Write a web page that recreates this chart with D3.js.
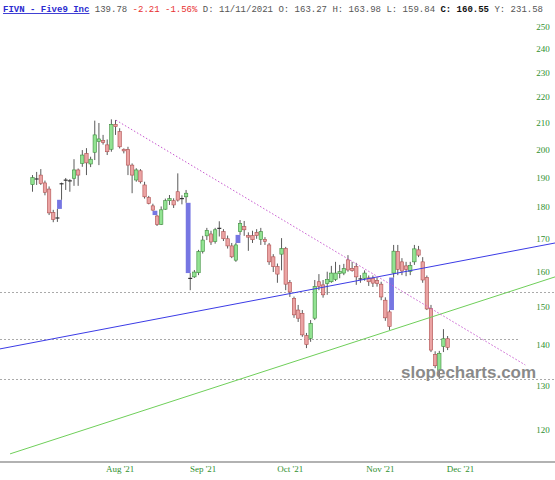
<!DOCTYPE html>
<html><head><meta charset="utf-8">
<script src="https://cdn.jsdelivr.net/npm/d3@7"></script>
<style>html,body{margin:0;padding:0;background:#fff;} svg{display:block;}</style>
</head><body>
<svg id="c" width="555" height="480"></svg>
<script>
// ---- data (trading-day index 0 = first candle) ----
const openV  = [187.6,189.8,190.9,188.2,186.1,178.3,176.3,187.8,189.0,189.0,189.8,192.7,195.0,198.6,194.8,199.0,202.9,203.3,201.7,200.1,
                209.4,206.6,200.1,200.0,194.4,189.2,192.4,187.5,183.2,180.5,177.2,174.5,179.4,182.2,182.2,185.2,182.8,183.5,158.0,158.6,
                159.8,166.1,170.9,171.5,169.1,173.5,172.2,170.0,167.8,163.5,172.2,173.8,171.0,171.0,172.0,169.8,169.8,168.1,164.5,161.6,
                165.3,167.0,157.0,152.5,149.3,148.4,142.5,141.8,147.1,157.2,156.3,156.7,157.2,157.9,159.6,159.7,163.6,161.0,161.6,158.2,
                158.2,158.3,158.2,157.5,156.5,152.0,148.8,159.7,166.1,163.0,161.8,160.2,163.0,166.6,163.0,158.4,149.7,137.7,133.8,139.7,141.7];
const highV  = [190.9,192.0,193.0,189.0,187.0,179.2,179.5,188.3,189.9,189.5,196.5,193.2,199.8,200.5,197.4,210.8,209.9,205.4,203.7,211.3,
                211.0,207.9,200.4,201.0,195.0,193.3,193.0,188.6,183.8,181.2,177.5,180.3,182.9,184.1,183.0,191.5,184.0,185.8,159.7,160.6,
                166.6,170.9,173.4,172.5,173.4,175.5,173.0,171.0,168.7,168.7,175.9,175.6,172.0,172.5,173.0,173.4,170.5,168.7,165.3,162.5,
                170.2,167.5,157.7,153.0,150.7,149.3,143.2,146.6,157.7,159.4,157.7,160.1,161.8,163.0,162.1,162.4,165.0,163.0,162.7,159.1,
                160.5,159.0,159.0,158.5,157.2,152.8,149.3,168.1,168.1,164.1,163.0,163.0,168.1,167.8,164.4,159.0,150.7,138.5,138.6,144.2,142.4];
const lowV   = [185.2,187.5,187.5,184.0,177.5,175.2,175.3,182.5,185.8,185.2,187.2,187.2,193.8,190.9,193.7,196.2,194.4,201.8,198.0,199.2,
                205.4,200.4,198.6,190.9,184.7,188.6,188.0,182.9,181.0,178.9,174.0,174.3,179.2,180.8,179.8,181.9,181.0,181.5,154.8,158.3,
                159.1,165.5,169.6,168.1,168.5,170.7,169.3,167.0,164.1,163.0,171.2,170.9,166.3,168.7,170.0,168.1,168.1,162.1,160.0,156.9,
                160.5,154.8,152.9,147.2,146.1,142.2,139.3,140.9,146.6,154.8,152.7,153.5,156.9,157.4,158.2,159.1,160.1,160.1,156.3,156.9,
                157.5,156.0,155.7,155.8,152.0,146.4,144.0,158.4,159.1,159.1,158.8,159.1,162.1,164.4,156.9,149.3,138.3,134.3,131.7,138.3,138.8];
const closeV = [190.0,189.3,188.0,185.0,178.2,176.1,176.8,188.0,189.3,188.8,192.7,190.9,198.0,195.2,196.5,205.4,203.9,202.6,199.2,209.4,
                208.5,201.0,199.5,194.4,190.9,192.7,188.6,183.5,181.3,179.1,174.5,179.2,182.2,182.9,180.8,182.4,183.0,184.7,158.3,160.0,
                166.1,169.6,172.6,169.0,172.8,173.0,170.0,167.8,164.5,168.1,174.8,172.8,170.5,169.7,171.0,172.2,169.2,163.0,161.6,159.4,
                167.0,156.5,154.3,148.0,147.1,142.7,140.2,145.7,155.8,155.9,153.5,157.9,159.7,159.7,160.1,161.0,160.6,160.4,158.6,157.8,
                159.7,157.2,156.8,156.7,152.9,147.2,144.9,166.2,160.8,160.3,160.8,161.9,166.9,165.0,157.7,149.6,138.8,134.9,138.0,141.7,139.5];
const gapIdx = [7, 30, 38, 50, 87];            // candles that opened with a price gap
const xTickLabels = ["Aug '21", "Sep '21", "Oct '21", "Nov '21", "Dec '21"];
const xTickIdx = [21.1, 41.1, 62.1, 83.8, 103.1];
const yTickValues = [120,130,140,150,160,170,180,190,200,210,220,230,240,250];
const hLineValues = [154.2, 141.6, 131.6];
const blueLineIdx = [-7.83, 125.9], blueLineVal = [139.1, 168.7];
const greenLineIdx = [-5.4, 125.9], greenLineVal = [114.9, 158.6];
const pinkLineIdx = [20.1, 118.7], pinkLineVal = [211.0, 135.1];
const headerParts = [
  {t:"FIVN - Five9 Inc", c:"#2b2bd0", b:true, u:true},
  {t:" 139.78", c:"#555"},
  {t:" -2.21 -1.56%", c:"#e83030"},
  {t:" D: 11/11/2021 O: 163.27 H: 163.98 L: 159.84", c:"#555"},
  {t:" C: 160.55", c:"#111", b:true},
  {t:" Y: 231.58", c:"#555"}
];

// ---- drawing ----
const svg = d3.select("#c");
const x = d3.scaleLinear().domain([0, 100]).range([32.5, 447.6]);
const y = d3.scaleLog().domain([120, 250]).range([430, 27]);
const W = 555;

// horizontal dotted levels
svg.selectAll("line.h").data(hLineValues).join("line")
  .attr("x1", 0).attr("x2", (d,i) => i === 1 ? 520 : W)
  .attr("y1", d => Math.round(y(d)) + 0.5).attr("y2", d => Math.round(y(d)) + 0.5)
  .attr("stroke", "#aaa").attr("stroke-width", 1).attr("stroke-dasharray", "2,2");

// bottom axis line
svg.append("line").attr("x1", 0).attr("x2", W).attr("y1", 462).attr("y2", 462)
  .attr("stroke", "#999").attr("stroke-width", 1.5);

// gap markers
svg.selectAll("rect.gap").data(gapIdx).join("rect")
  .attr("x", g => x(g - 0.5) - 2.4).attr("width", 4.8)
  .attr("y", g => {
    const p = g - 1;
    return lowV[p] > highV[g] ? y(lowV[p]) : y(lowV[g]);
  })
  .attr("height", g => {
    const p = g - 1;
    return lowV[p] > highV[g] ? y(highV[g]) - y(lowV[p]) : y(highV[p]) - y(lowV[g]);
  })
  .attr("fill", "#7676e2");

const idx = d3.range(openV.length);
// wicks
svg.selectAll("line.w").data(idx).join("line")
  .attr("x1", i => x(i)).attr("x2", i => x(i))
  .attr("y1", i => y(highV[i])).attr("y2", i => y(lowV[i]))
  .attr("stroke", "#5a5a5a").attr("stroke-width", 1);
// bodies
idx.forEach(i => {
  const o = openV[i], c = closeV[i];
  const top = y(Math.max(o, c)), bot = y(Math.min(o, c));
  const up = c >= o;
  if (bot - top < 1.6) {
    svg.append("line").attr("x1", x(i) - 2).attr("x2", x(i) + 2)
      .attr("y1", (top + bot) / 2).attr("y2", (top + bot) / 2)
      .attr("stroke", "#333").attr("stroke-width", 1.2);
  } else {
    svg.append("rect").attr("x", x(i) - 1.7).attr("width", 3.4)
      .attr("y", top).attr("height", bot - top)
      .attr("fill", up ? "#92e392" : "#eba3a3")
      .attr("stroke", up ? "#3c8c3c" : "#b05050").attr("stroke-width", 0.6);
  }
});

// trend lines
const lineGen = (ix, vals) => d3.line()(ix.map((d, k) => [x(d), y(vals[k])]));
svg.append("path").attr("d", lineGen(blueLineIdx, blueLineVal))
  .attr("stroke", "#3b3be6").attr("stroke-width", 1).attr("fill", "none");
svg.append("path").attr("d", lineGen(greenLineIdx, greenLineVal))
  .attr("stroke", "#6fcf5a").attr("stroke-width", 1).attr("fill", "none");
svg.append("path").attr("d", lineGen(pinkLineIdx, pinkLineVal))
  .attr("stroke", "#c85ad0").attr("stroke-width", 1).attr("stroke-dasharray", "1.5,2").attr("fill", "none");

// y tick labels
svg.selectAll("text.yt").data(yTickValues).join("text")
  .attr("x", 543).attr("y", d => y(d) + 3)
  .attr("text-anchor", "middle")
  .attr("font-family", "'Liberation Serif', serif").attr("font-size", 9)
  .attr("fill", "#2f8f2f").text(d => d);

// x tick labels
svg.selectAll("text.xt").data(xTickLabels).join("text")
  .attr("x", (d, i) => x(xTickIdx[i])).attr("y", 472)
  .attr("text-anchor", "middle")
  .attr("font-family", "'Liberation Serif', serif").attr("font-size", 9)
  .attr("fill", "#2f8f2f").text(d => d);

// watermark
svg.append("text").attr("x", 401).attr("y", 378)
  .attr("font-family", "'Liberation Sans', Arial, sans-serif").attr("font-weight", "bold")
  .attr("font-size", 17).attr("fill", "#8a8a8a").text("slopecharts.com");

// header
const fs = 9.0, cw = fs * 0.6;
let pos = 0;
const hdr = svg.append("g");
headerParts.forEach(p => {
  hdr.append("text").attr("x", 3 + pos * cw).attr("y", 12)
    .attr("font-family", "'Liberation Mono', monospace").attr("font-size", fs)
    .attr("xml:space", "preserve").style("white-space", "pre")
    .attr("font-weight", p.b ? "bold" : "normal")
    .attr("text-decoration", p.u ? "underline" : null)
    .attr("fill", p.c).text(p.t);
  pos += p.t.length;
});
</script>
</body></html>
